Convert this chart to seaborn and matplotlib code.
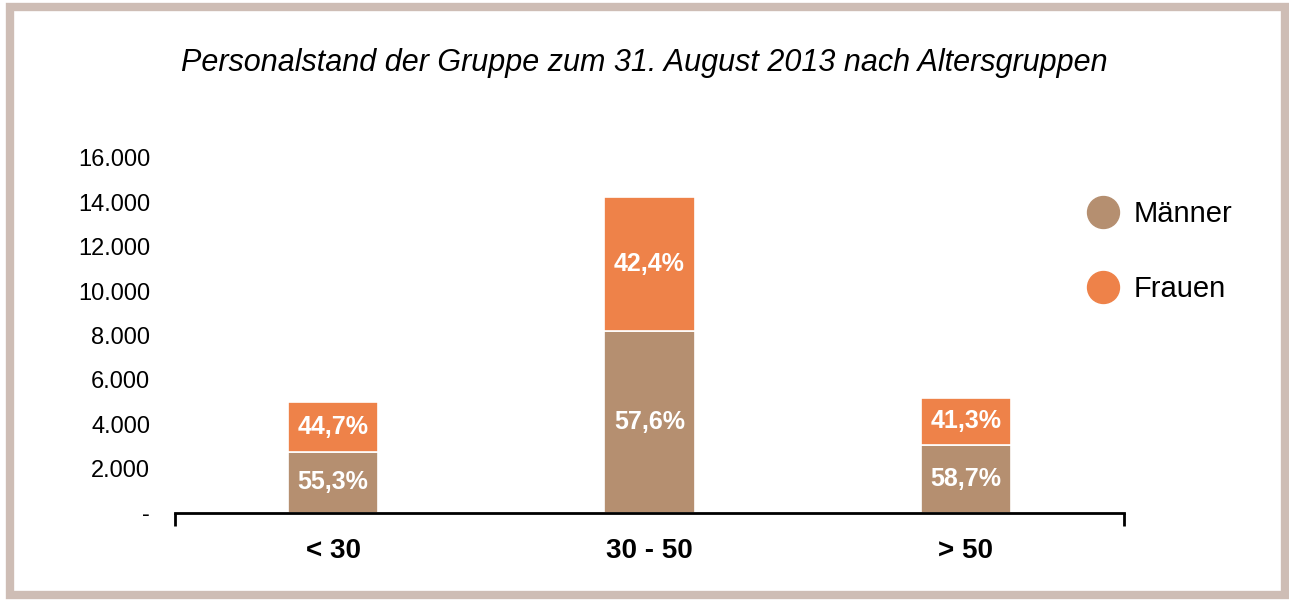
import matplotlib
matplotlib.use('Agg')
import matplotlib.pyplot as plt
import seaborn as sns
import pandas as pd
from matplotlib.patches import Rectangle
from matplotlib.lines import Line2D
from matplotlib.ticker import FuncFormatter

# data
age_groups = ['< 30', '30 - 50', '> 50']
maenner = [2765, 8210, 3050]
frauen = [2235, 6040, 2150]
pct_maenner = ['55,3%', '57,6%', '58,7%']
pct_frauen = ['44,7%', '42,4%', '41,3%']
y_ticks = [0, 2000, 4000, 6000, 8000, 10000, 12000, 14000, 16000]

col_m = '#B58F70'
col_f = '#EE8249'
frame_col = '#CEBDB5'

sns.set_style('white')
plt.rcParams['font.family'] = ['Liberation Sans', 'DejaVu Sans']
plt.rcParams['text.color'] = 'black'
plt.rcParams['xtick.color'] = 'black'
plt.rcParams['ytick.color'] = 'black'

df = pd.DataFrame({'gruppe': age_groups, 'maenner': maenner, 'frauen': frauen})

fig = plt.figure(figsize=(12.89, 6.05), dpi=100)
ax = fig.add_axes([175 / 1289, 1 - 513 / 605, (1124 - 175) / 1289, (513 - 158) / 605])

sns.barplot(data=df, x='gruppe', y='maenner', color=col_m, width=0.285,
            edgecolor='white', linewidth=1.2, ax=ax, saturation=1)
sns.barplot(data=df, x='gruppe', y='frauen', bottom=df['maenner'], color=col_f,
            width=0.285, edgecolor='white', linewidth=1.2, ax=ax, saturation=1)

# percentage labels inside the segments
for i in range(len(age_groups)):
    ax.text(i, maenner[i] / 2, pct_maenner[i],
            ha='center', va='center', color='white', fontsize=18, fontweight='bold')
    ax.text(i, maenner[i] + frauen[i] / 2, pct_frauen[i],
            ha='center', va='center', color='white', fontsize=18, fontweight='bold')

ax.set_xlim(-0.5, 2.5)
ax.set_ylim(0, 16000)
ax.set_yticks(y_ticks)
ax.yaxis.set_major_formatter(FuncFormatter(
    lambda v, p: '-' if v == 0 else f'{int(v):,}'.replace(',', '.')))
ax.tick_params(axis='y', length=0, labelsize=17, pad=18)
ax.tick_params(axis='x', which='major', length=0, labelsize=20, pad=18)
for lbl in ax.get_xticklabels():
    lbl.set_fontweight('bold')
ax.set_xticks([-0.5, 2.5], minor=True)
ax.tick_params(axis='x', which='minor', bottom=True, length=9, width=2,
               color='black', direction='out')
ax.set_xlabel('')
ax.set_ylabel('')

sns.despine(ax=ax, left=True)
ax.spines['bottom'].set_linewidth(2)
ax.spines['bottom'].set_color('black')

fig.text(0.5, 1 - 63 / 605, 'Personalstand der Gruppe zum 31. August 2013 nach Altersgruppen',
         ha='center', va='center', fontsize=22, style='italic')

handles = [Line2D([], [], marker='o', linestyle='', markersize=23, color=col_m),
           Line2D([], [], marker='o', linestyle='', markersize=23, color=col_f)]
fig.legend(handles, ['Männer', 'Frauen'], loc='upper left',
           bbox_to_anchor=(1059 / 1289, 1 - 174 / 605), frameon=False,
           fontsize=21, labelspacing=1.6, handletextpad=0.45, handlelength=1.2)

fig.patches.append(Rectangle((10 / 1289, 10 / 605), (1285 - 10) / 1289, (598 - 10) / 605,
                             transform=fig.transFigure, fill=False,
                             edgecolor=frame_col, linewidth=6))

fig.savefig('out.png', dpi=100)
